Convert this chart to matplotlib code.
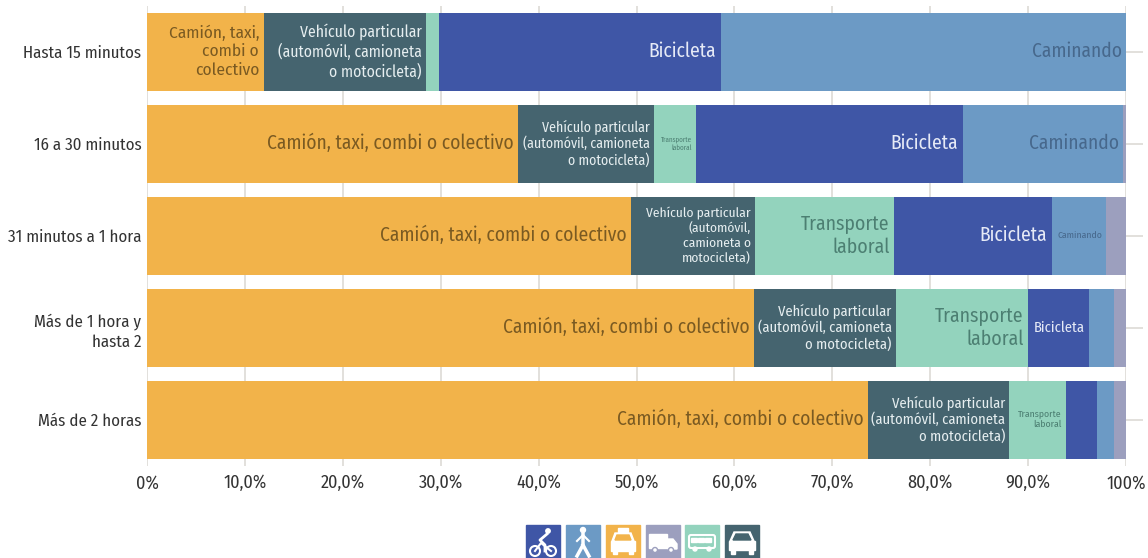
#!/usr/bin/env python3
import matplotlib
matplotlib.use('Agg')
import matplotlib.pyplot as plt
from matplotlib import font_manager
from matplotlib.patches import Rectangle, Circle, Polygon, FancyBboxPatch
import numpy as np

# use the condensed face when it is there, otherwise something close
names = {f.name for f in font_manager.fontManager.ttflist}
FONT = next((n for n in ['Fira Sans Condensed', 'Roboto Condensed', 'Lato'] if n in names), 'DejaVu Sans')
plt.rcParams['font.family'] = [FONT, 'DejaVu Sans']

categories = ['Hasta 15 minutos', '16 a 30 minutos', '31 minutos a 1 hora',
              'Más de 1 hora y\nhasta 2', 'Más de 2 horas']
camion = [11.9, 37.9, 49.4, 62.0, 73.6]
vehiculo = [16.6, 13.9, 12.7, 14.5, 14.5]
transporte = [1.3, 4.3, 14.2, 13.5, 5.8]
bicicleta = [28.8, 27.2, 16.1, 6.2, 3.1]
caminando = [41.4, 16.4, 5.6, 2.6, 1.8]
otros = [0.0, 0.3, 2.0, 1.2, 1.2]
ticks = [0, 10, 20, 30, 40, 50, 60, 70, 80, 90, 100]
tick_labels = ['0%', '10,0%', '20,0%', '30,0%', '40,0%', '50,0%', '60,0%',
               '70,0%', '80,0%', '90,0%', '100%']

series = [camion, vehiculo, transporte, bicicleta, caminando, otros]
colors = ['#F2B34A', '#45646F', '#93D3BD', '#3F56A6', '#6C9AC5', '#9C9FBE']
text_colors = ['#7A5A22', '#E6EEF0', '#4C7F72', '#E6EAF6', '#47688C', '#555555']

# label text and font size per series, one entry per row (None = no label)
camion_labels = ['Camión, taxi,\ncombi o\ncolectivo'] + ['Camión, taxi, combi o colectivo'] * 4
camion_sizes = [12.5, 14, 14, 14, 14]
vehiculo_labels = ['Vehículo particular\n(automóvil, camioneta\no motocicleta)',
                   'Vehículo particular\n(automóvil, camioneta\no motocicleta)',
                   'Vehículo particular\n(automóvil,\ncamioneta o\nmotocicleta)',
                   'Vehículo particular\n(automóvil, camioneta\no motocicleta)',
                   'Vehículo particular\n(automóvil, camioneta\no motocicleta)']
vehiculo_sizes = [11.3, 10, 9.7, 10.5, 10.5]
transporte_labels = [None, 'Transporte\nlaboral', 'Transporte\nlaboral',
                     'Transporte\nlaboral', 'Transporte\nlaboral']
transporte_sizes = [8, 5, 14.2, 14.2, 7]
bicicleta_labels = ['Bicicleta', 'Bicicleta', 'Bicicleta', 'Bicicleta', None]
bicicleta_sizes = [14, 14, 14, 10.5, 8]
caminando_labels = ['Caminando', 'Caminando', 'Caminando', None, None]
caminando_sizes = [14, 14, 7, 8, 8]
otros_labels = [None] * 5
otros_sizes = [8] * 5
all_labels = [camion_labels, vehiculo_labels, transporte_labels,
              bicicleta_labels, caminando_labels, otros_labels]
all_sizes = [camion_sizes, vehiculo_sizes, transporte_sizes,
             bicicleta_sizes, caminando_sizes, otros_sizes]

W, H = 1148, 558
fig = plt.figure(figsize=(W / 100, H / 100), dpi=100)
ax = fig.add_axes([147 / W, 1 - 466 / H, 979 / W, 460 / H])

y = np.arange(len(categories))
left = np.zeros(len(categories))
for vals, col, tcol, labs, sizes in zip(series, colors, text_colors, all_labels, all_sizes):
    vals = np.array(vals)
    ax.barh(y, vals, left=left, height=0.848, color=col, zorder=3)
    left = left + vals
    for i, lab in enumerate(labs):
        if lab:
            ax.text(left[i] - 0.45, y[i] - 0.005, lab, ha='right', va='center', color=tcol,
                    fontsize=sizes[i], linespacing=1.22, zorder=4)

ax.set_xlim(0, 100)
ax.set_ylim(len(categories) - 0.5, -0.5)
ax.set_xticks(ticks)
ax.set_xticklabels(tick_labels, fontsize=13, color='#333333')
ax.set_yticks(y)
ax.set_yticklabels(categories, fontsize=12.1, color='#333333', linespacing=1.3)
ax.grid(axis='x', color='#DDDAD5', lw=1.2, zorder=0)
ax.tick_params(axis='x', length=0, pad=6)
ax.tick_params(axis='y', left=False, right=True, length=12, color='#DDDAD5', width=1.2, pad=-8)
for s in ax.spines.values():
    s.set_visible(False)

# legend icons, drawn in pixel coordinates
ov = fig.add_axes([0, 0, 1, 1], zorder=5)
ov.set_xlim(0, W)
ov.set_ylim(H, 0)
ov.axis('off')
icon_x = [526, 566, 606, 646, 685, 725]
icon_colors = ['#3F56A6', '#6C9AC5', '#F2B34A', '#9C9FBE', '#93D3BD', '#45646F']
for x0, c in zip(icon_x, icon_colors):
    ov.add_patch(Rectangle((x0, 525), 33.5, 33, color=c))


def wheel(cx, cy, r):
    ov.add_patch(Circle((cx, cy), r, fill=False, ec='white', lw=1.5))


# bike
x0 = icon_x[0]
wheel(x0 + 9, 551, 5)
wheel(x0 + 25, 551, 5)
ov.plot([x0 + 9, x0 + 15, x0 + 20, x0 + 25], [551, 543, 547, 551], color='white', lw=1.5)
ov.add_patch(Circle((x0 + 22, 531), 2.2, color='white'))
ov.plot([x0 + 21, x0 + 14, x0 + 19, x0 + 19], [534, 540, 545, 551], color='white', lw=2)
# walker
x0 = icon_x[1]
ov.add_patch(Circle((x0 + 17, 530), 2.5, color='white'))
ov.plot([x0 + 17, x0 + 17, x0 + 11], [534, 545, 556], color='white', lw=2.5)
ov.plot([x0 + 17, x0 + 23], [545, 556], color='white', lw=2.5)
ov.plot([x0 + 11, x0 + 17, x0 + 23], [541, 535, 541], color='white', lw=1.5)
# taxi
x0 = icon_x[2]
ov.add_patch(Rectangle((x0 + 12, 528), 10, 4, color='white'))
ov.add_patch(Polygon([(x0 + 9, 533), (x0 + 25, 533), (x0 + 28, 541), (x0 + 6, 541)], color='white'))
ov.add_patch(Rectangle((x0 + 5, 541), 24, 10, color='white'))
ov.add_patch(Polygon([(x0 + 11, 535), (x0 + 23, 535), (x0 + 25, 540), (x0 + 9, 540)], color=icon_colors[2]))
ov.add_patch(Rectangle((x0 + 7, 551), 4, 3, color='white'))
ov.add_patch(Rectangle((x0 + 23, 551), 4, 3, color='white'))
# truck
x0 = icon_x[3]
ov.add_patch(Rectangle((x0 + 3, 534), 18, 14, color='white'))
ov.add_patch(Polygon([(x0 + 22, 539), (x0 + 27, 539), (x0 + 31, 544), (x0 + 31, 549), (x0 + 22, 549)], color='white'))
ov.add_patch(Circle((x0 + 9, 550), 2.5, color='white', ec=icon_colors[3]))
ov.add_patch(Circle((x0 + 25, 550), 2.5, color='white', ec=icon_colors[3]))
# bus
x0 = icon_x[4]
ov.add_patch(FancyBboxPatch((x0 + 4, 535), 26, 13, boxstyle='round,pad=0,rounding_size=2', fc='none', ec='white', lw=1.5))
for dx in [6, 13, 20]:
    ov.add_patch(Rectangle((x0 + dx, 538), 6, 4, color='white'))
ov.add_patch(Circle((x0 + 10, 549), 2, color='white'))
ov.add_patch(Circle((x0 + 24, 549), 2, color='white'))
# car
x0 = icon_x[5]
ov.add_patch(Polygon([(x0 + 9, 532), (x0 + 25, 532), (x0 + 29, 541), (x0 + 5, 541)], color='white'))
ov.add_patch(Rectangle((x0 + 4, 541), 26, 9, color='white'))
ov.add_patch(Polygon([(x0 + 11, 534), (x0 + 23, 534), (x0 + 26, 540), (x0 + 8, 540)], color=icon_colors[5]))
ov.add_patch(Rectangle((x0 + 6, 550), 4, 4, color='white'))
ov.add_patch(Rectangle((x0 + 24, 550), 4, 4, color='white'))

fig.savefig('out.png', dpi=100)
